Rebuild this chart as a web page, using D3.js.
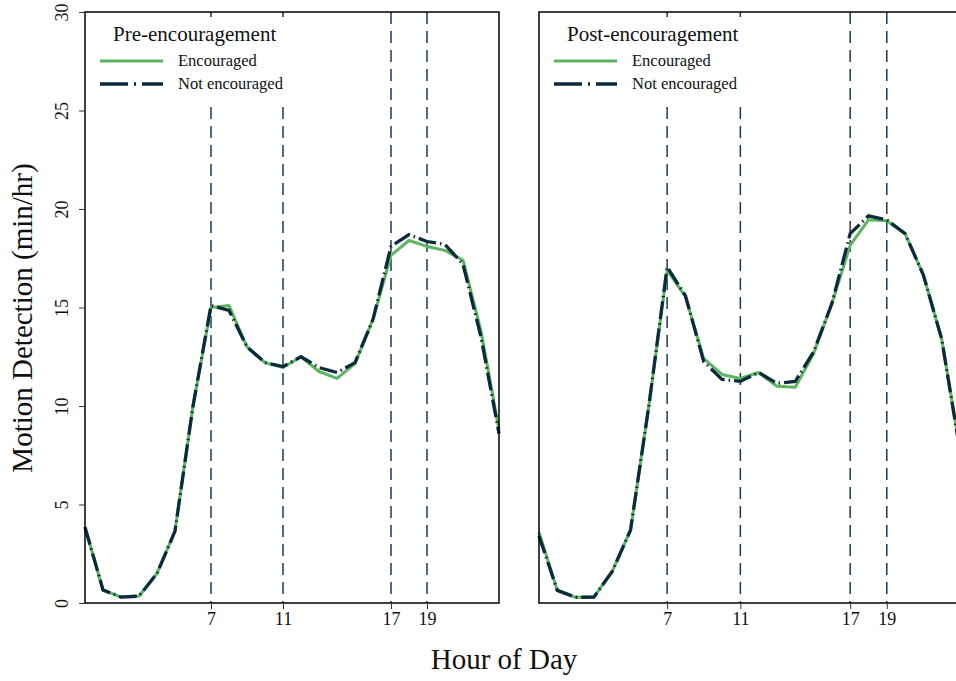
<!DOCTYPE html>
<html>
<head>
<meta charset="utf-8">
<script src="https://cdn.jsdelivr.net/npm/d3@7"></script>
<style>
  body { margin: 0; background: #fff; }
  svg { display: block; font-family: "Liberation Serif", "DejaVu Serif", serif; }
</style>
</head>
<body>
<div id="chart"></div>
<script>
// Data
var hours = d3.range(0, 24);
var refHours = [7, 11, 17, 19];
var yTicks = [0, 5, 10, 15, 20, 25, 30];

var preEncouraged = [3.85, 0.66, 0.3, 0.35, 1.5, 3.65, 10.0, 15.0, 15.1, 13.0, 12.2, 11.95,
  12.5, 11.75, 11.4, 12.15, 14.4, 17.65, 18.4, 18.1, 17.9, 17.4, 13.8, 8.8];
var preNotEncouraged = [3.85, 0.66, 0.3, 0.35, 1.5, 3.65, 10.0, 15.1, 14.85, 13.0, 12.2, 12.0,
  12.5, 11.95, 11.7, 12.2, 14.4, 18.1, 18.7, 18.35, 18.2, 17.2, 13.5, 8.6];
var postEncouraged = [3.6, 0.64, 0.29, 0.3, 1.6, 3.7, 10.0, 16.9, 15.55, 12.4, 11.6, 11.4,
  11.7, 11.0, 10.95, 12.65, 15.2, 18.15, 19.45, 19.4, 18.75, 16.65, 13.4, 7.8];
var postNotEncouraged = [3.4, 0.64, 0.29, 0.3, 1.6, 3.7, 10.0, 17.05, 15.6, 12.25, 11.35, 11.25,
  11.7, 11.15, 11.25, 12.75, 15.2, 18.75, 19.65, 19.45, 18.75, 16.65, 13.4, 7.7];

var panels = [
  { title: "Pre-encouragement", enc: preEncouraged, notEnc: preNotEncouraged, left: 85, right: 499, yAxis: true },
  { title: "Post-encouragement", enc: postEncouraged, notEnc: postNotEncouraged, left: 539, right: 960, yAxis: false }
];

// Chart Params
var svgWidth = 956;
var svgHeight = 681;
var plotTop = 12, plotBottom = 603;

var green = "#5ab55e";
var navy = "#0b2b3c";
var refColor = "#1d3b4f";
var dashDot = "18,4,1.5,4";

var svg = d3.select("#chart")
  .append("svg")
  .attr("width", svgWidth)
  .attr("height", svgHeight);

var y = d3.scaleLinear().domain([0, 30]).range([plotBottom, plotTop]);

panels.forEach(function(p) {
  var x = d3.scaleLinear().domain([0, 23]).range([p.left, p.right]);
  var g = svg.append("g");

  // reference lines
  g.selectAll(".ref")
    .data(refHours)
    .enter()
    .append("line")
    .attr("x1", d => x(d))
    .attr("x2", d => x(d))
    .attr("y1", plotTop)
    .attr("y2", plotBottom)
    .attr("stroke", refColor)
    .attr("stroke-width", 1.5)
    .attr("stroke-dasharray", "12,7");

  var line = d3.line()
    .x((d, i) => x(hours[i]))
    .y(d => y(d));

  g.append("path")
    .datum(p.enc)
    .attr("d", line)
    .attr("fill", "none")
    .attr("stroke", green)
    .attr("stroke-width", 3)
    .attr("stroke-linejoin", "round");

  g.append("path")
    .datum(p.notEnc)
    .attr("d", line)
    .attr("fill", "none")
    .attr("stroke", navy)
    .attr("stroke-width", 3.3)
    .attr("stroke-dasharray", dashDot);

  // frame
  g.append("rect")
    .attr("x", p.left)
    .attr("y", plotTop)
    .attr("width", p.right - p.left)
    .attr("height", plotBottom - plotTop)
    .attr("fill", "none")
    .attr("stroke", "#000")
    .attr("stroke-width", 1.5);

  // x axis
  var xAxis = d3.axisBottom(x)
    .tickValues(refHours)
    .tickSize(6)
    .tickSizeOuter(0)
    .tickPadding(3)
    .tickFormat(d3.format("d"));

  var xg = g.append("g")
    .attr("transform", `translate(0, ${plotBottom})`)
    .call(xAxis);
  xg.select(".domain").remove();
  xg.selectAll("line").attr("stroke", "#333");
  xg.selectAll("text")
    .attr("font-family", "Liberation Serif, serif")
    .attr("font-size", 18)
    .attr("fill", "#111");

  // y axis (left panel only)
  if (p.yAxis) {
    var yAxis = d3.axisLeft(y)
      .tickValues(yTicks)
      .tickSize(6)
      .tickSizeOuter(0)
      .tickFormat(d3.format("d"));
    var yg = g.append("g")
      .attr("transform", `translate(${p.left}, 0)`)
      .call(yAxis);
    yg.select(".domain").remove();
    yg.selectAll("line").attr("stroke", "#333");
    yg.selectAll("text")
      .attr("font-family", "Liberation Serif, serif")
      .attr("font-size", 18)
      .attr("fill", "#111")
      .attr("x", 0)
      .attr("dy", 0)
      .attr("text-anchor", "middle")
      .attr("transform", "translate(-17, 0) rotate(-90)");
  }

  // legend (white box hides the reference lines behind it)
  var lg = g.append("g").attr("transform", `translate(${p.left}, 0)`);
  lg.append("rect")
    .attr("x", 5)
    .attr("y", 17)
    .attr("width", 212)
    .attr("height", 84)
    .attr("fill", "#fff");

  lg.append("text")
    .attr("x", 28)
    .attr("y", 41)
    .attr("font-size", 21)
    .attr("fill", "#111")
    .text(p.title);

  var items = [
    { label: "Encouraged", color: green, dash: null, w: 3 },
    { label: "Not encouraged", color: navy, dash: "28,6,2,6", w: 3.3 }
  ];
  items.forEach(function(it, i) {
    var ly = 61 + i * 23;
    lg.append("line")
      .attr("x1", 15).attr("x2", 78)
      .attr("y1", ly).attr("y2", ly)
      .attr("stroke", it.color)
      .attr("stroke-width", it.w)
      .attr("stroke-dasharray", it.dash);
    lg.append("text")
      .attr("x", 93)
      .attr("y", ly + 5)
      .attr("font-size", 16.5)
      .attr("fill", "#111")
      .text(it.label);
  });
});

// Axis titles
svg.append("text")
  .attr("text-anchor", "middle")
  .attr("transform", `translate(504, 669)`)
  .attr("font-size", 29)
  .attr("fill", "#111")
  .text("Hour of Day");

svg.append("text")
  .attr("text-anchor", "middle")
  .attr("transform", `translate(32, 318) rotate(-90)`)
  .attr("font-size", 29)
  .attr("fill", "#111")
  .text("Motion Detection (min/hr)");
</script>
</body>
</html>
